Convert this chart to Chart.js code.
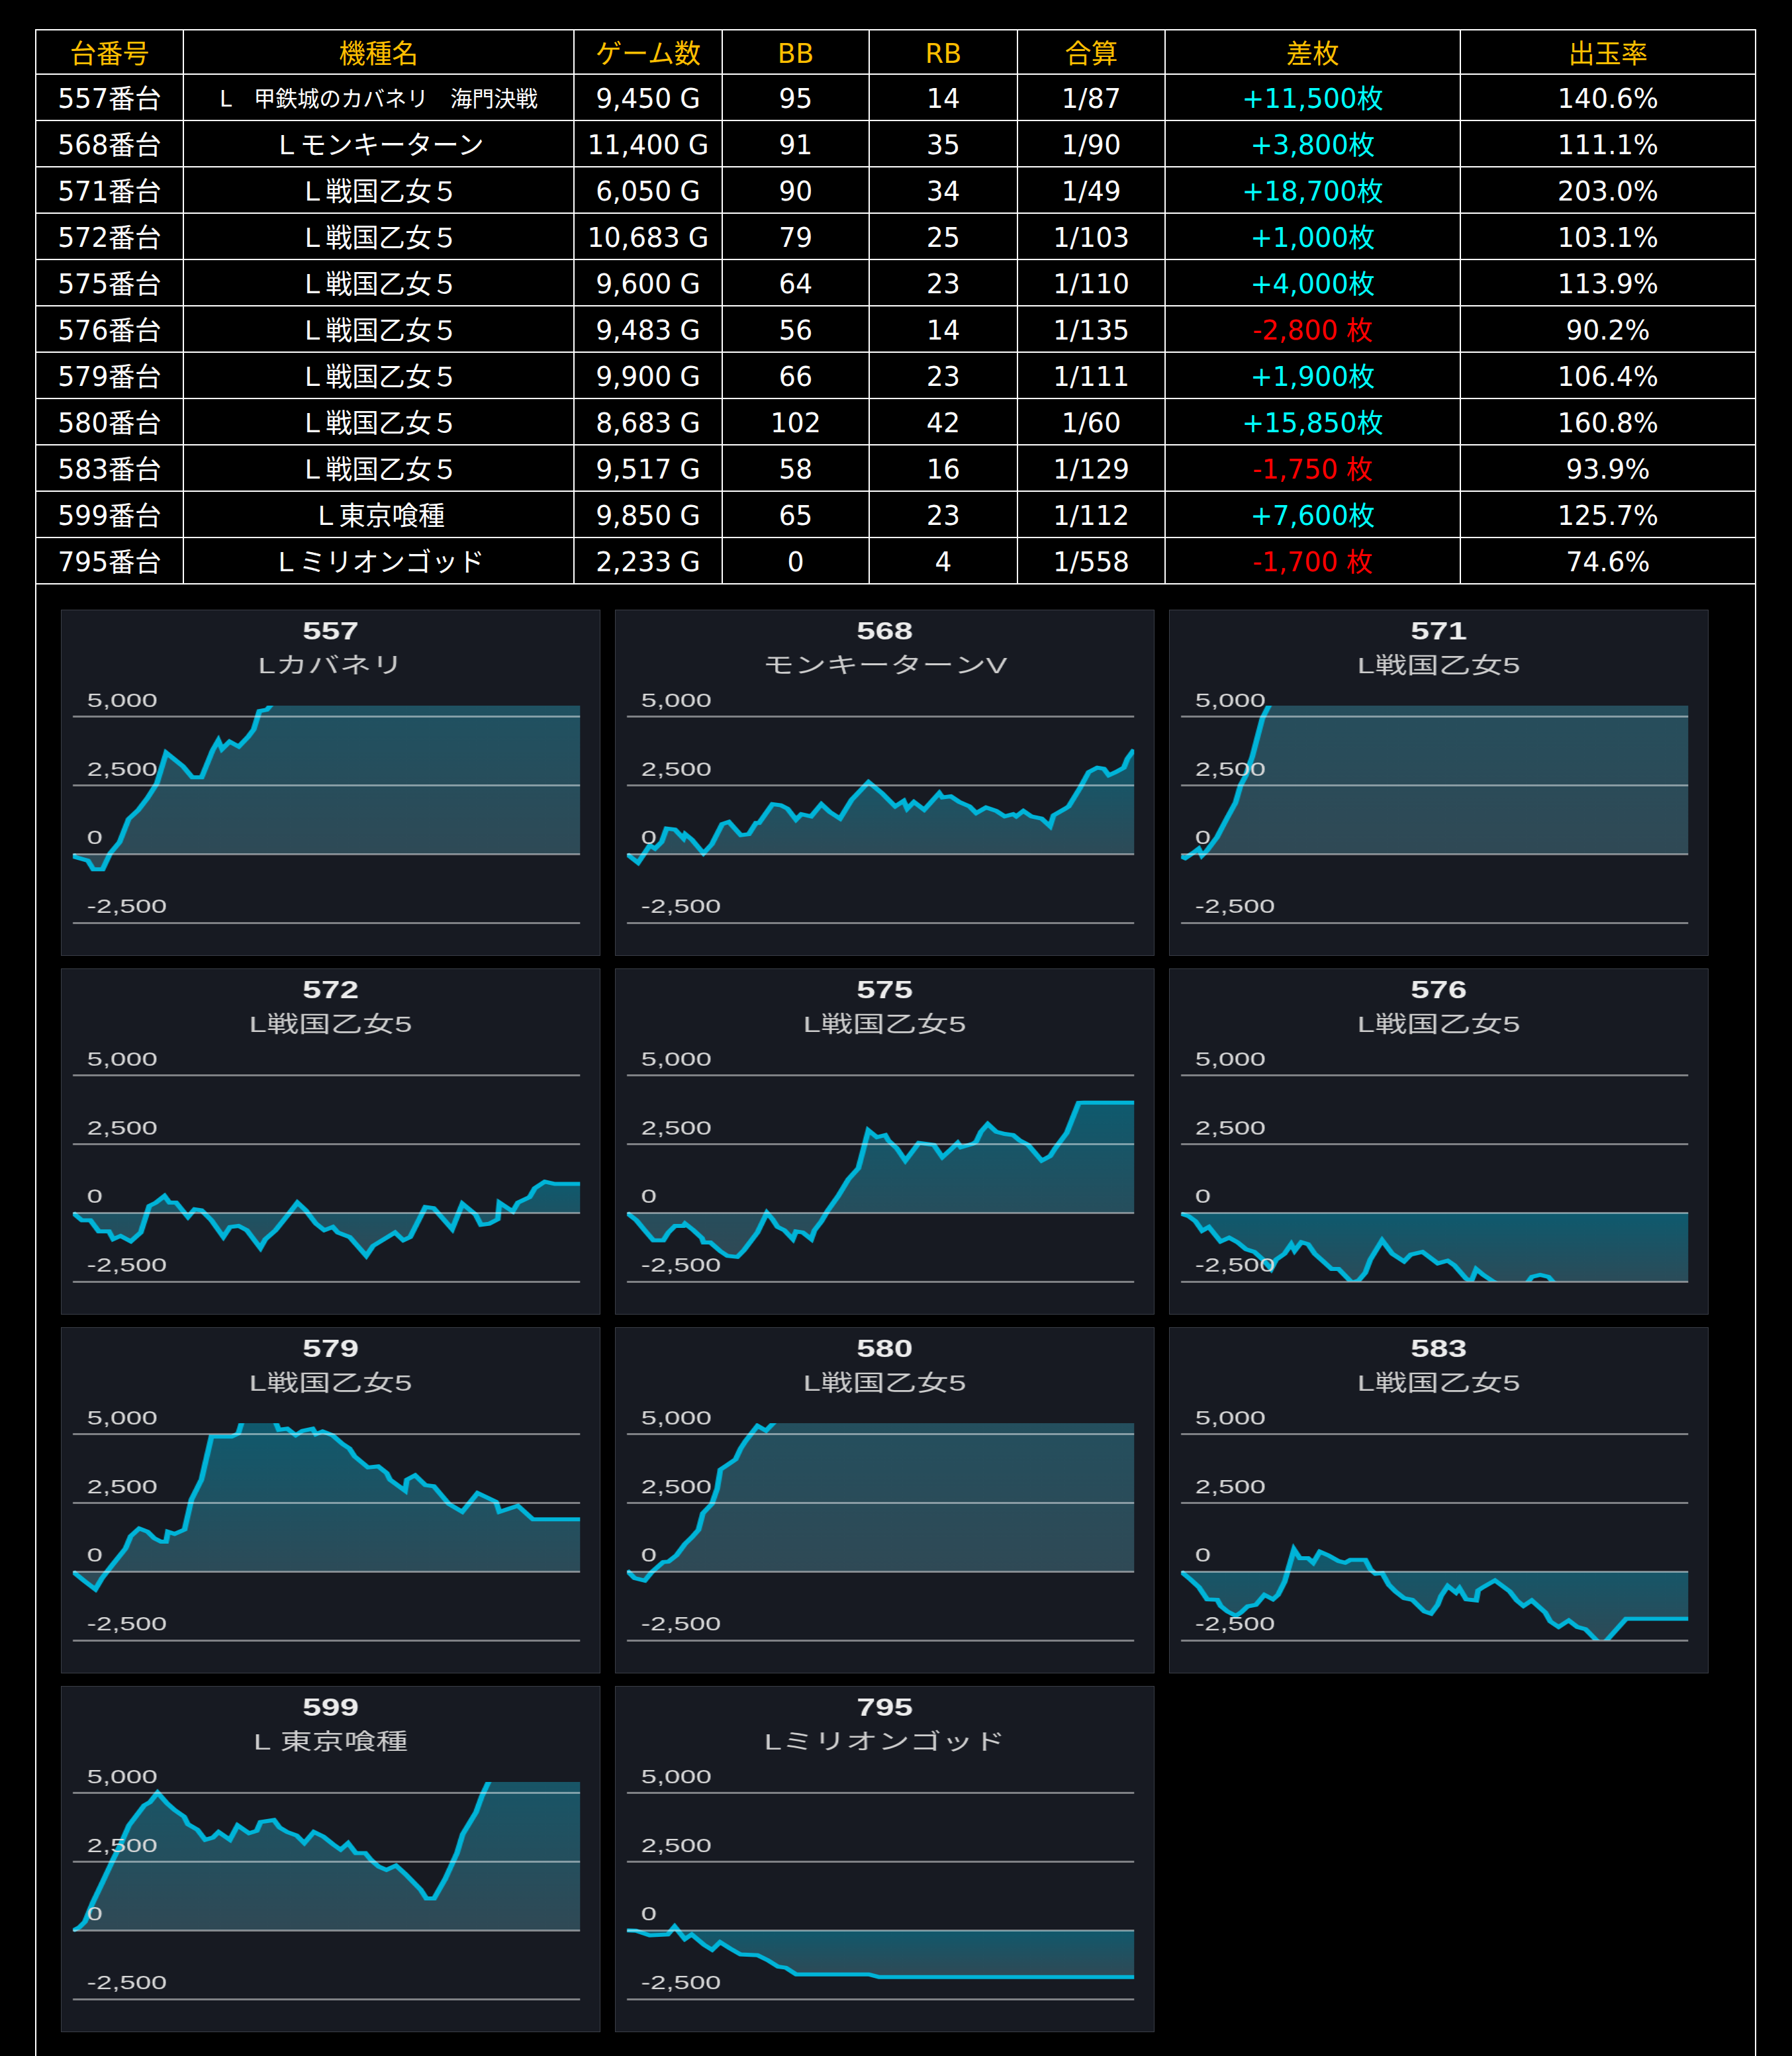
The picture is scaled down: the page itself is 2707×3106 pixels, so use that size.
<!DOCTYPE html>
<html lang="ja">
<head>
<meta charset="UTF-8">
<title>台別データ</title>
<script src="https://cdn.jsdelivr.net/npm/chart.js@4.4.1/dist/chart.umd.min.js"></script>
<style>
  html, body { margin: 0; padding: 0; background: #000; }
  body { width: 2707px; height: 3106px; overflow: hidden; position: relative;
         font-family: "DejaVu Sans", "Noto Sans CJK JP", sans-serif; }
  .wrap { position: absolute; left: 53px; top: 44px; width: 2600px; height: 3100px;
          box-sizing: border-box; border-left: 2px solid #fff; border-right: 2px solid #fff; }
  table { width: 2596px; border-collapse: collapse; table-layout: fixed; }
  th, td { border: 2px solid #fff; text-align: center; vertical-align: middle; padding: 4px 0 0 0;
           color: #fff; font-size: 40px; font-weight: normal; line-height: 1; white-space: nowrap; }
  th:first-child, td:first-child { border-left: none; }
  th:last-child, td:last-child { border-right: none; }
  th { color: #ffbf00; }
  tr.head { height: 67px; }
  tr.row { height: 70px; }
  td.name-small { font-size: 33px; }
  td.plus { color: #00ffff; }
  td.minus { color: #ff0000; }
  .charts { display: grid; grid-template-columns: repeat(3, 815px); column-gap: 22px; row-gap: 19px;
            margin: 38px 0 0 37px; }
  .panel { width: 815px; height: 523px; box-sizing: border-box; border: 1px solid #3a3e47; background: #171a22; }
  .panel canvas { display: block; }
</style>
</head>
<body>
<div class="wrap">
  <div id="dataTable"></div>
  <div class="charts" id="chartsContainer"></div>
</div>

<script>
/* ================================
   Table data
================================ */
const tableHeaders = ["台番号", "機種名", "ゲーム数", "BB", "RB", "合算", "差枚", "出玉率"];
const machineNos = ["557", "568", "571", "572", "575", "576", "579", "580", "583", "599", "795"];
const machineNames = [
    "L　甲鉄城のカバネリ　海門決戦", "Ｌモンキーターン", "Ｌ戦国乙女５", "Ｌ戦国乙女５",
    "Ｌ戦国乙女５", "Ｌ戦国乙女５", "Ｌ戦国乙女５", "Ｌ戦国乙女５", "Ｌ戦国乙女５",
    "Ｌ東京喰種", "Ｌミリオンゴッド"
];
const gameCounts = [9450, 11400, 6050, 10683, 9600, 9483, 9900, 8683, 9517, 9850, 2233];
const bbCounts = [95, 91, 90, 79, 64, 56, 66, 102, 58, 65, 0];
const rbCounts = [14, 35, 34, 25, 23, 14, 23, 42, 16, 23, 4];
const combinedRates = ["1/87", "1/90", "1/49", "1/103", "1/110", "1/135", "1/111", "1/60", "1/129", "1/112", "1/558"];
const coinDiffs = [11500, 3800, 18700, 1000, 4000, -2800, 1900, 15850, -1750, 7600, -1700];
const payoutRates = [140.6, 111.1, 203.0, 103.1, 113.9, 90.2, 106.4, 160.8, 93.9, 125.7, 74.6];

/* ================================
   Slump graph data  [game, 差枚]
================================ */
const chartNames = [
    "Lカバネリ", "モンキーターンV", "L戦国乙女5", "L戦国乙女5", "L戦国乙女5", "L戦国乙女5",
    "L戦国乙女5", "L戦国乙女5", "L戦国乙女5", "L 東京喰種", "Lミリオンゴッド"
];
const yTicks = [-2500, 0, 2500, 5000];
const yMin = -2500;
const yMax = 5400;

const slump557 = [[0,0],[35,-105],[280,-240],[380,-555],[555,-555],[695,25],[870,430],[1040,1275],
    [1215,1590],[1390,2035],[1565,2570],[1740,3685],[2050,3195],[2225,2790],[2400,2790],[2605,3775],
    [2710,4130],[2780,3820],[2920,4090],[3090,3910],[3265,4265],[3370,4535],[3475,5200],[3615,5250],
    [3720,5500],[4500,7500],[6000,9000],[7500,10500],[9450,11500]];
const slump568 = [[0,0],[250,-320],[515,320],[630,200],[780,440],[890,930],[1080,890],[1270,565],
    [1310,725],[1460,525],[1720,25],[1910,360],[2140,1090],[2290,1170],[2560,685],[2740,725],
    [2900,1130],[2970,1130],[3270,1815],[3460,1775],[3610,1650],[3800,1250],[3920,1450],[4140,1370],
    [4370,1815],[4560,1530],[4790,1290],[5050,1975],[5430,2620],[5730,2220],[5880,1975],[6030,1735],
    [6220,1935],[6300,1650],[6450,1895],[6680,1610],[7020,2220],[7090,2060],[7280,2100],[7470,1895],
    [7700,1735],[7850,1490],[8070,1695],[8300,1570],[8490,1370],[8680,1450],[8750,1370],[8910,1570],
    [9090,1370],[9320,1290],[9510,1010],[9590,1410],[9850,1650],[9930,1735],[10190,2420],[10380,2985],
    [10570,3145],[10720,3105],[10830,2865],[10990,2985],[11170,3145],[11250,3470],[11400,3800]];
const slump571 = [[0,-85],[50,-150],[150,55],[210,195],[250,-55],[310,125],[430,615],[550,1310],
    [650,1870],[710,2495],[770,2840],[850,3540],[910,4235],[970,4930],[1040,5350],[1100,5700],
    [1500,8000],[2500,11000],[3500,13500],[4500,16000],[5200,17500],[6050,18700]];
const slump572 = [[0,0],[190,-275],[370,-275],[545,-675],[760,-675],[850,-960],[1005,-840],[1220,-1040],
    [1430,-715],[1610,250],[1750,370],[1930,615],[2035,370],[2175,370],[2425,-155],[2565,130],
    [2710,90],[2920,-275],[3170,-880],[3310,-515],[3490,-475],[3665,-635],[3950,-1280],[4055,-960],
    [4270,-635],[4550,-30],[4730,370],[4905,90],[5120,-395],[5295,-635],[5475,-515],[5580,-715],
    [5830,-880],[6180,-1565],[6325,-1200],[6785,-715],[6960,-1000],[7105,-880],[7425,210],[7600,170],
    [7990,-595],[8205,330],[8485,-70],[8595,-435],[8770,-395],[8950,-235],[8985,370],[9265,50],
    [9375,370],[9620,570],[9730,895],[9940,1135],[10150,1050],[10683,1050]];
const slump575 = [[0,0],[180,-275],[335,-635],[500,-1000],[690,-1000],[785,-715],[910,-475],[1070,-475],
    [1100,-395],[1260,-635],[1420,-920],[1450,-1080],[1580,-1080],[1770,-1400],[1900,-1565],[2090,-1605],
    [2215,-1360],[2470,-715],[2650,0],[2755,-235],[2850,-515],[2980,-635],[3140,-960],[3200,-675],
    [3330,-715],[3490,-960],[3550,-635],[3680,-315],[3805,90],[4000,615],[4190,1215],[4380,1620],
    [4570,3000],[4730,2750],[4890,2830],[4950,2630],[5110,2345],[5270,1900],[5525,2545],[5810,2470],
    [5970,2025],[6130,2305],[6260,2545],[6320,2385],[6545,2510],[6610,2585],[6700,2950],[6830,3230],
    [6990,2950],[7150,2870],[7310,2830],[7435,2630],[7595,2470],[7850,1900],[8010,2065],[8105,2345],
    [8325,2910],[8550,4000],[8645,4010],[9600,4010]];
const slump576 = [[0,-30],[145,-125],[270,-305],[395,-655],[520,-515],[740,-1045],[900,-905],[1055,-1070],
    [1215,-1325],[1370,-1420],[1530,-1700],[1685,-2045],[1780,-1700],[1935,-1490],[2060,-1140],[2125,-1380],
    [2250,-1070],[2375,-1140],[2500,-1490],[2660,-1770],[2815,-2045],[2945,-2045],[3195,-2540],[3320,-2465],
    [3445,-2185],[3540,-1700],[3760,-1000],[3950,-1490],[4170,-1770],[4295,-1520],[4515,-1420],[4800,-1840],
    [4985,-1740],[5110,-1910],[5330,-2395],[5425,-2500],[5520,-2045],[5650,-2255],[5835,-2500],[6150,-2800],
    [6400,-2750],[6560,-2330],[6715,-2255],[6870,-2330],[6965,-2540],[7410,-2800],[8350,-2900],[9483,-2800]];
const slump579 = [[0,0],[210,-320],[440,-645],[570,-240],[770,240],[1030,845],[1130,1290],[1295,1570],
    [1460,1450],[1590,1210],[1720,1090],[1820,1090],[1855,1450],[1985,1370],[2180,1530],[2315,2620],
    [2510,3345],[2705,4910],[2905,4910],[3100,4910],[3230,5030],[3300,5450],[3625,5700],[3955,5450],
    [4020,5160],[4185,5200],[4350,4960],[4480,5120],[4680,5200],[4745,5000],[4875,5100],[5070,4960],
    [5270,4635],[5400,4475],[5500,4190],[5760,3790],[5960,3830],[6125,3585],[6190,3345],[6485,2940],
    [6520,3345],[6680,3505],[6880,3145],[7045,3105],[7340,2460],[7600,2175],[7900,2860],[8260,2540],
    [8325,2175],[8685,2395],[8980,1900],[9900,1900]];
const slump580 = [[0,40],[130,-235],[305,-330],[420,-30],[620,345],[710,360],[850,595],[995,1010],
    [1110,1245],[1225,1520],[1300,2120],[1455,2465],[1545,3015],[1600,3710],[1715,3875],[1860,4085],
    [1945,4470],[2030,4750],[2235,5305],[2380,5125],[2550,5500],[3500,8000],[5000,11000],[6500,13500],
    [7500,15000],[8683,15850]];
const slump583 = [[0,0],[175,-280],[335,-565],[490,-1010],[680,-1025],[745,-1250],[870,-1450],[1030,-1610],
    [1125,-1490],[1250,-1265],[1405,-1210],[1565,-845],[1725,-1010],[1820,-845],[1945,-365],[2120,805],
    [2230,485],[2385,485],[2480,320],[2605,725],[2765,590],[2955,380],[3080,320],[3175,425],
    [3460,425],[3555,80],[3650,-80],[3775,-55],[3900,-485],[4025,-725],[4185,-965],[4340,-1025],
    [4565,-1450],[4690,-1530],[4815,-1210],[4880,-885],[5005,-525],[5160,-765],[5225,-605],[5350,-1010],
    [5540,-1050],[5575,-685],[5670,-565],[5890,-320],[6170,-725],[6300,-1050],[6425,-1250],[6580,-1050],
    [6835,-1490],[6930,-1815],[7085,-2015],[7275,-1775],[7435,-2015],[7590,-2095],[7815,-2540],[7900,-2700],
    [7970,-2540],[8350,-1720],[9517,-1720]];
const slump599 = [[0,-10],[125,110],[235,315],[385,1000],[570,1725],[790,2610],[940,3175],[1090,3820],
    [1385,4545],[1495,4660],[1645,5010],[1830,4620],[1975,4380],[2160,4140],[2235,3860],[2420,3660],
    [2570,3295],[2720,3375],[2830,3580],[3050,3295],[3200,3820],[3420,3535],[3570,3620],[3645,3940],
    [3905,4015],[4015,3740],[4160,3580],[4345,3455],[4495,3175],[4680,3580],[4865,3415],[5050,3135],
    [5200,2935],[5345,3175],[5495,2810],[5680,2810],[5790,2565],[5940,2320],[6090,2200],[6275,2360],
    [6460,2045],[6755,1480],[6865,1160],[7015,1160],[7235,1885],[7460,2810],[7570,3495],[7830,4300],
    [7940,4870],[8085,5450],[8500,6500],[9200,7200],[9850,7600]];
const slump795 = [[0,0],[40,-15],[100,-180],[180,-150],[210,140],[255,-320],[285,-150],[340,-530],
    [375,-710],[410,-430],[455,-665],[500,-875],[575,-905],[620,-1085],[665,-1320],[700,-1360],
    [745,-1600],[1065,-1600],[1110,-1700],[2233,-1700]];

const slumpData = [slump557, slump568, slump571, slump572, slump575, slump576,
                   slump579, slump580, slump583, slump599, slump795];

/* ================================
   Data Table
================================ */
function formatDiff(v) {
    const text = Math.abs(v).toLocaleString("en-US");
    return v >= 0 ? `+${text}枚` : `-${text} 枚`;
}

function renderTable() {
    const container = document.getElementById("dataTable");
    const widths = [222, 590, 224, 222, 224, 223, 446, 445];

    const cols = widths.map(w => `<col style="width:${w}px">`).join("");
    const head = tableHeaders.map(h => `<th>${h}</th>`).join("");

    const rows = machineNos.map((no, i) => `
        <tr class="row">
            <td>${no}番台</td>
            <td class="${i === 0 ? "name-small" : ""}">${machineNames[i]}</td>
            <td>${gameCounts[i].toLocaleString("en-US")} G</td>
            <td>${bbCounts[i]}</td>
            <td>${rbCounts[i]}</td>
            <td>${combinedRates[i]}</td>
            <td class="${coinDiffs[i] >= 0 ? "plus" : "minus"}">${formatDiff(coinDiffs[i])}</td>
            <td>${payoutRates[i].toFixed(1)}%</td>
        </tr>
    `).join("");

    container.innerHTML = `
        <table>
            <colgroup>${cols}</colgroup>
            <thead><tr class="head">${head}</tr></thead>
            <tbody>${rows}</tbody>
        </table>
    `;
}

/* ================================
   Slump Charts
================================ */
function fillGradient(chart, top, bottom) {
    if (!chart.chartArea) return "#24505e";
    const y = chart.scales.y;
    const g = chart.ctx.createLinearGradient(0, y.getPixelForValue(top), 0, y.getPixelForValue(bottom));
    g.addColorStop(0, "#0e5a6e");
    g.addColorStop(1, "#304955");
    return g;
}

function renderSlumpChart(canvas, index) {
    const series = slumpData[index];
    const values = series.map(p => p[1]);
    const top = Math.max(...values);
    const bottom = Math.min(...values);

    new Chart(canvas, {
        type: "line",
        data: {
            datasets: [{
                data: series.map(p => ({ x: p[0], y: p[1] })),
                borderColor: "#00b4d8",
                borderWidth: 6,
                pointRadius: 0,
                tension: 0,
                fill: "origin",
                backgroundColor: ctx => fillGradient(ctx.chart, top, bottom)
            }]
        },
        options: {
            responsive: false,
            devicePixelRatio: 1,
            animation: false,
            layout: { padding: { left: 0, right: 0, top: 0, bottom: 49 } },
            plugins: {
                legend: { display: false },
                tooltip: { enabled: false },
                title: {
                    display: true,
                    text: machineNos[index],
                    color: "#ececec",
                    font: { size: 36, weight: "bold" },
                    padding: { top: 12, bottom: 0 }
                },
                subtitle: {
                    display: true,
                    text: chartNames[index],
                    color: "#cdcdcd",
                    font: { size: 34 },
                    padding: { top: 10, bottom: 38 }
                }
            },
            scales: {
                x: { type: "linear", display: false, min: 0, max: gameCounts[index] },
                y: {
                    min: yMin,
                    max: yMax,
                    afterBuildTicks: axis => { axis.ticks = yTicks.map(v => ({ value: v })); },
                    afterFit: axis => { axis.width = 12; },
                    border: { display: false },
                    grid: { color: "rgba(255,255,255,0.45)", lineWidth: 3, drawTicks: false, z: 1 },
                    ticks: {
                        mirror: true,
                        padding: 15,
                        labelOffset: -23,
                        color: "#d9d9d9",
                        font: { size: 30 },
                        z: 1,
                        callback: v => v.toLocaleString("en-US")
                    }
                },
                // empty right-hand axis, only keeps the plot off the right edge
                yRight: {
                    type: "linear",
                    position: "right",
                    afterFit: axis => { axis.width = 21; },
                    border: { display: false },
                    grid: { display: false },
                    ticks: { display: false }
                }
            }
        }
    });
}

function renderCharts() {
    const container = document.getElementById("chartsContainer");
    container.innerHTML = "";

    machineNos.forEach((no, index) => {
        const panel = document.createElement("div");
        panel.className = "panel";

        // drawn narrow, then stretched sideways like the original screenshot
        const canvas = document.createElement("canvas");
        canvas.id = `slump_${no}`;
        canvas.width = 573;
        canvas.height = 521;
        canvas.style.width = "813px";
        canvas.style.height = "521px";

        panel.appendChild(canvas);
        container.appendChild(panel);
        renderSlumpChart(canvas, index);
    });
}

/* ================================
   Init
================================ */
document.addEventListener("DOMContentLoaded", () => {
    Chart.defaults.font.family = "'Liberation Sans', 'Noto Sans CJK JP', sans-serif";
    renderTable();
    renderCharts();
});
</script>
</body>
</html>
